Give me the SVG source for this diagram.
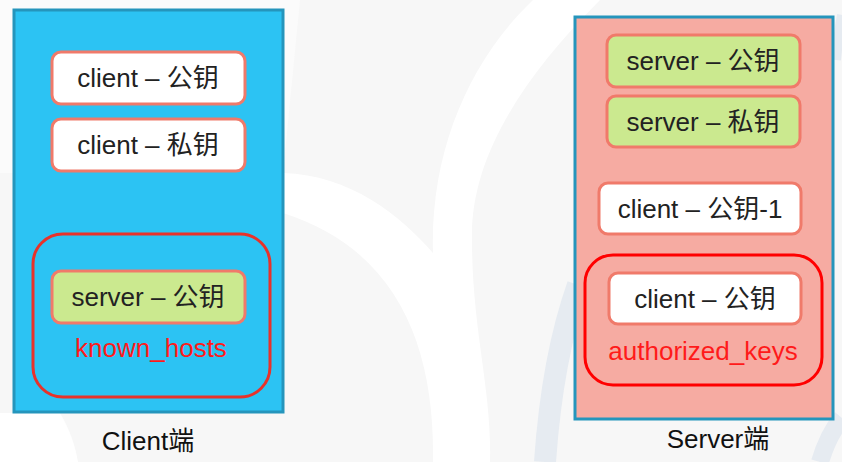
<svg xmlns="http://www.w3.org/2000/svg" width="842" height="462" viewBox="0 0 842 462">
<style>
text{font-family:"Liberation Sans","Noto Sans CJK SC",sans-serif;font-size:26px;text-anchor:middle;fill:#222}
.side{stroke:#2595bc;stroke-width:3}
.key{stroke:#f07a6a;stroke-width:3}
.white{fill:#ffffff}
.green{fill:#cbe98f}
.grp{fill:none;stroke-width:3}
.red{fill:#ff1a1a}
.cap{fill:#111}
</style>
<g id="background">
<rect x="0" y="0" width="842" height="462" fill="#f7f7f7"/>
<path d="M0,0 L300,0 L283,173 L0,173 Z" fill="#fbfbfb"/>
<path d="M0,413 L60,413 C70,430 75,445 78,462 L0,462 Z" fill="#ffffff"/>
<path d="M283,173 C350,175 400,215 433,253 C430,150 470,60 533,0 L600,0 C520,80 470,160 472,240 C472,330 492,390 490,462 L433,462 C435,350 400,250 283,213 Z" fill="#ffffff"/>
<path d="M545,462 C550,390 562,330 578,285" fill="none" stroke="#e6ebf1" stroke-width="22"/>
<path d="M820,462 C825,445 832,430 842,418" fill="none" stroke="#e6ebf1" stroke-width="18"/>
<path d="M836,60 C838,40 840,25 842,15" fill="none" stroke="#e6ebf1" stroke-width="10"/>
</g>
<g id="client-side">
<rect x="14" y="10" width="269" height="402" fill="#2cc3f3" class="side"/>
</g>
<g id="server-side">
<rect x="575" y="17" width="258" height="402" fill="#f6aba2" class="side"/>
</g>
<g id="client-pub">
<rect x="52" y="52" width="193" height="52" rx="9" class="key white"/>
<text x="148" y="87">client – 公钥</text>
</g>
<g id="client-priv">
<rect x="52" y="119" width="193" height="52" rx="9" class="key white"/>
<text x="148" y="154">client – 私钥</text>
</g>
<g id="known_hosts">
<rect x="33" y="234" width="237" height="163" rx="30" class="grp" stroke="#e8322a"/>
<text x="151" y="357" class="red">known_hosts</text>
</g>
<g id="client-server-pub">
<rect x="52" y="271" width="193" height="52" rx="9" class="key green"/>
<text x="148" y="306">server – 公钥</text>
</g>
<g id="server-pub">
<rect x="607" y="35" width="193" height="52" rx="9" class="key green"/>
<text x="703" y="70">server – 公钥</text>
</g>
<g id="server-priv">
<rect x="607" y="96" width="193" height="51" rx="9" class="key green"/>
<text x="703" y="131">server – 私钥</text>
</g>
<g id="client-pub-1">
<rect x="599" y="183" width="202" height="51" rx="9" class="key white"/>
<text x="700" y="218">client – 公钥-1</text>
</g>
<g id="authorized_keys">
<rect x="585" y="255" width="237" height="130" rx="28" class="grp" stroke="#ff0000"/>
<text x="703" y="360" class="red">authorized_keys</text>
</g>
<g id="server-client-pub">
<rect x="609" y="273" width="192" height="51" rx="9" class="key white"/>
<text x="705" y="308">client – 公钥</text>
</g>
<g id="labels">
<text x="148" y="450" class="cap">Client端</text>
<text x="718" y="448" class="cap">Server端</text>
</g>
<g id="connectors"/>
</svg>
